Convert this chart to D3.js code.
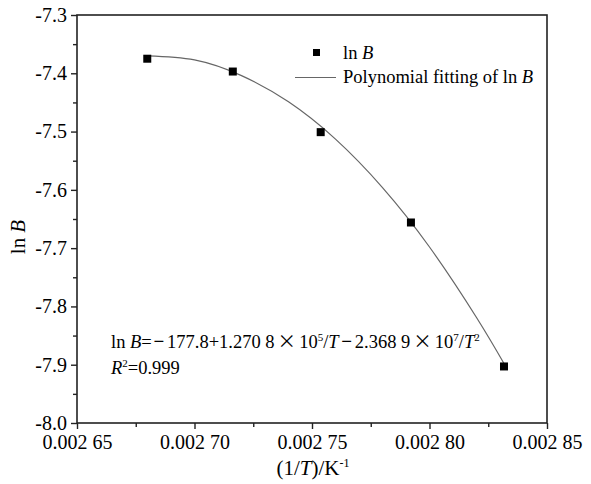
<!DOCTYPE html>
<html><head><meta charset="utf-8">
<script src="https://cdn.jsdelivr.net/npm/d3@7"></script>
<style>
body{margin:0;background:#fff;}
svg text{font-family:"Times New Roman","Liberation Serif",Tinos,serif;fill:#000;}
</style></head>
<body><svg id="c" width="591" height="484"></svg>
<script>
// data: x = 1/T (K^-1), y = ln B
const xValues = [0.0026799, 0.0027163, 0.0027537, 0.0027921, 0.0028317];
const lnB = [-7.375, -7.397, -7.501, -7.656, -7.903];
// fitted curve
const fitX = [0.00268, 0.00270, 0.00272, 0.00274, 0.00276, 0.00278, 0.00280, 0.00282, 0.002832];
const fitY = [-7.370, -7.377, -7.404, -7.449, -7.513, -7.596, -7.698, -7.819, -7.900];
const xTicks = [0.00265, 0.00270, 0.00275, 0.00280, 0.00285];
const xTickLabels = ["0.002 65", "0.002 70", "0.002 75", "0.002 80", "0.002 85"];
const xMinor = [0.002675, 0.002725, 0.002775, 0.002825];
const yTicks = [-7.3, -7.4, -7.5, -7.6, -7.7, -7.8, -7.9, -8.0];
const yTickLabels = ["-7.3", "-7.4", "-7.5", "-7.6", "-7.7", "-7.8", "-7.9", "-8.0"];
const yMinor = [-7.35, -7.45, -7.55, -7.65, -7.75, -7.85, -7.95];

const FONT = '"Times New Roman","Liberation Serif",Tinos,serif';
const SYM = '"Noto Sans CJK SC","Times New Roman","Liberation Serif",serif';
const svg = d3.select("#c");
const L = 77, R = 547, T = 15, B = 423;
const x = d3.scaleLinear().domain([0.00265, 0.00285]).range([L, R]);
const y = d3.scaleLinear().domain([-8.0, -7.3]).range([B, T]);
const axisColor = "#222";

// frame
svg.append("rect").attr("x", L).attr("y", T).attr("width", R - L).attr("height", B - T)
  .attr("fill", "none").attr("stroke", axisColor).attr("stroke-width", 1.6);

// x axis
const xa = svg.append("g").attr("transform", `translate(0,${B})`)
  .call(d3.axisBottom(x).tickValues(xTicks).tickSize(6).tickPadding(6)
    .tickFormat((d, i) => xTickLabels[i]));
xa.select(".domain").remove();
svg.append("g").attr("transform", `translate(0,${B})`)
  .call(d3.axisBottom(x).tickValues(xMinor).tickSize(4).tickFormat(""))
  .select(".domain").remove();
// y axis
const ya = svg.append("g").attr("transform", `translate(${L},0)`)
  .call(d3.axisLeft(y).tickValues(yTicks).tickSize(6).tickPadding(4)
    .tickFormat((d, i) => yTickLabels[i]));
ya.select(".domain").remove();
svg.append("g").attr("transform", `translate(${L},0)`)
  .call(d3.axisLeft(y).tickValues(yMinor).tickSize(4).tickFormat(""))
  .select(".domain").remove();
svg.selectAll("g").attr("font-family", FONT);
svg.selectAll(".tick line").attr("stroke", axisColor).attr("stroke-width", 1.4);
svg.selectAll(".tick text").attr("font-size", 20).attr("fill", "#000")
  .style("font-family", FONT);

// fit curve
const pts = fitX.map((d, i) => [d, fitY[i]]);
svg.append("path").datum(pts)
  .attr("d", d3.line().x(d => x(d[0])).y(d => y(d[1])).curve(d3.curveNatural))
  .attr("fill", "none").attr("stroke", "#666").attr("stroke-width", 1.2);

// points
const s = 8;
svg.selectAll("rect.pt").data(xValues).join("rect").attr("class", "pt")
  .attr("x", d => x(d) - s / 2).attr("y", (d, i) => y(lnB[i]) - s / 2)
  .attr("width", s).attr("height", s).attr("fill", "#000");

// legend
svg.append("rect").attr("x", 313).attr("y", 49).attr("width", 7).attr("height", 7).attr("fill", "#000");
const t1 = svg.append("text").attr("x", 343).attr("y", 59).attr("font-size", 18.5);
t1.append("tspan").text("ln ");
t1.append("tspan").attr("font-style", "italic").text("B");
svg.append("line").attr("x1", 295).attr("x2", 336).attr("y1", 77.5).attr("y2", 77.5)
  .attr("stroke", "#666").attr("stroke-width", 1.2);
const t2 = svg.append("text").attr("x", 343).attr("y", 83).attr("font-size", 18.5);
t2.append("tspan").text("Polynomial fitting of ln ");
t2.append("tspan").attr("font-style", "italic").text("B");

// equation
const eq = svg.append("text").attr("x", 111).attr("y", 348).attr("font-size", 18.5);
eq.append("tspan").text("ln ");
eq.append("tspan").attr("font-style", "italic").text("B");
eq.append("tspan").text("=");
eq.append("tspan").attr("dx", 2).style("font-family", SYM).text("\u2212");
eq.append("tspan").attr("dx", 3).text("177.8+1.270 8");
eq.append("tspan").attr("dx", 3).style("font-family", SYM).text("\u00d7");
eq.append("tspan").attr("dx", 3).text("10");
eq.append("tspan").attr("font-size", 11).attr("dy", -7).text("5");
eq.append("tspan").attr("dy", 7).text("/");
eq.append("tspan").attr("font-style", "italic").text("T");
eq.append("tspan").attr("dx", 3).style("font-family", SYM).text("\u2212");
eq.append("tspan").attr("dx", 3).text("2.368 9");
eq.append("tspan").attr("dx", 3).style("font-family", SYM).text("\u00d7");
eq.append("tspan").attr("dx", 3).text("10");
eq.append("tspan").attr("font-size", 11).attr("dy", -7).text("7");
eq.append("tspan").attr("dy", 7).text("/");
eq.append("tspan").attr("font-style", "italic").text("T");
eq.append("tspan").attr("font-size", 11).attr("dy", -7).text("2");
const r2 = svg.append("text").attr("x", 111).attr("y", 374).attr("font-size", 18.5);
r2.append("tspan").attr("font-style", "italic").text("R");
r2.append("tspan").attr("font-size", 11).attr("dy", -7).text("2");
r2.append("tspan").attr("dy", 7).text("=0.999");

// axis titles
const xt = svg.append("text").attr("x", 313).attr("y", 475).attr("font-size", 21).attr("text-anchor", "middle");
xt.append("tspan").text("(1/");
xt.append("tspan").attr("font-style", "italic").text("T");
xt.append("tspan").text(")/K");
xt.append("tspan").attr("font-size", 12).attr("dy", -8).text("-1");
const yt = svg.append("text").attr("transform", "translate(25,237) rotate(-90)")
  .attr("font-size", 21).attr("text-anchor", "middle");
yt.append("tspan").text("ln ");
yt.append("tspan").attr("font-style", "italic").text("B");
</script></body></html>
